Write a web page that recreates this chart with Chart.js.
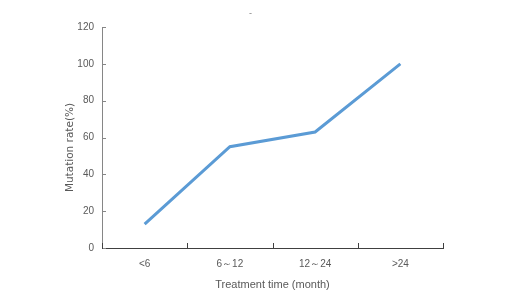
<!DOCTYPE html>
<html>
<head>
<meta charset="utf-8">
<script src="https://cdn.jsdelivr.net/npm/chart.js@4/dist/chart.umd.min.js"></script>
<style>
html,body{margin:0;padding:0;background:#fff;}
#wrap{width:516px;height:301px;}
</style>
</head>
<body>
<div id="wrap"><canvas id="c" width="516" height="301"></canvas></div>
<script>
const categories = ['<6', '6～12', '12～24', '>24'];
const mutationRate = [13, 55, 63, 100];
const yTicks = [0, 20, 40, 60, 80, 100, 120];

const FONT = 'Liberation Sans';

const tickPlugin = {
  id: 'innerTicks',
  afterDraw(chart) {
    const ctx = chart.ctx;
    const xs = chart.scales.x, ys = chart.scales.y;
    ctx.save();
    ctx.lineWidth = 1;
    ctx.strokeStyle = '#868686';
    yTicks.forEach(v => {
      const py = Math.round(ys.getPixelForValue(v)) + 0.5;
      ctx.beginPath();
      ctx.moveTo(xs.left, py);
      ctx.lineTo(xs.left + 4, py);
      ctx.stroke();
    });
    ctx.strokeStyle = '#404040';
    for (let i = 0; i <= categories.length; i++) {
      const px = Math.round(xs.getPixelForValue(i - 0.5)) + 0.5;
      ctx.beginPath();
      ctx.moveTo(px, ys.bottom + 1);
      ctx.lineTo(px, ys.bottom - 5);
      ctx.stroke();
    }
    ctx.fillStyle = '#7f7f7f';
    ctx.font = '9px ' + FONT;
    ctx.textAlign = 'center';
    ctx.fillText('-', (xs.left + xs.right) / 2 - 22, 16);
    ctx.restore();
  }
};

new Chart(document.getElementById('c'), {
  type: 'line',
  data: {
    labels: categories,
    datasets: [{
      data: mutationRate,
      borderColor: '#5B9BD5',
      borderWidth: 3,
      pointRadius: 0,
      tension: 0,
      fill: false
    }]
  },
  options: {
    responsive: false,
    animation: false,
    layout: { padding: { left: 60, right: 73, top: 27, bottom: 5 } },
    plugins: { legend: { display: false }, tooltip: { enabled: false } },
    scales: {
      x: {
        offset: true,
        grid: { display: false, drawTicks: false },
        border: { display: true, color: '#404040', width: 1 },
        ticks: { color: '#595959', font: { family: FONT, size: 10 }, padding: 10 },
        title: { display: true, text: 'Treatment time (month)', color: '#595959', font: { family: FONT, size: 11 }, padding: 4 },
        afterFit(s) { s.height = 48; }
      },
      y: {
        min: 0, max: 120,
        grid: { display: false, drawTicks: false },
        border: { display: true, color: '#868686', width: 1 },
        ticks: { stepSize: 20, color: '#595959', font: { family: FONT, size: 10 }, padding: 8,
          callback: v => yTicks.includes(v) ? String(v) : null },
        title: { display: true, text: 'Mutation rate(%)      ', color: '#595959', font: { family: 'DejaVu Sans', size: 10.5 }, padding: 4 },
        afterFit(s) { s.width = 42; }
      }
    }
  },
  plugins: [tickPlugin]
});
</script>
</body>
</html>
